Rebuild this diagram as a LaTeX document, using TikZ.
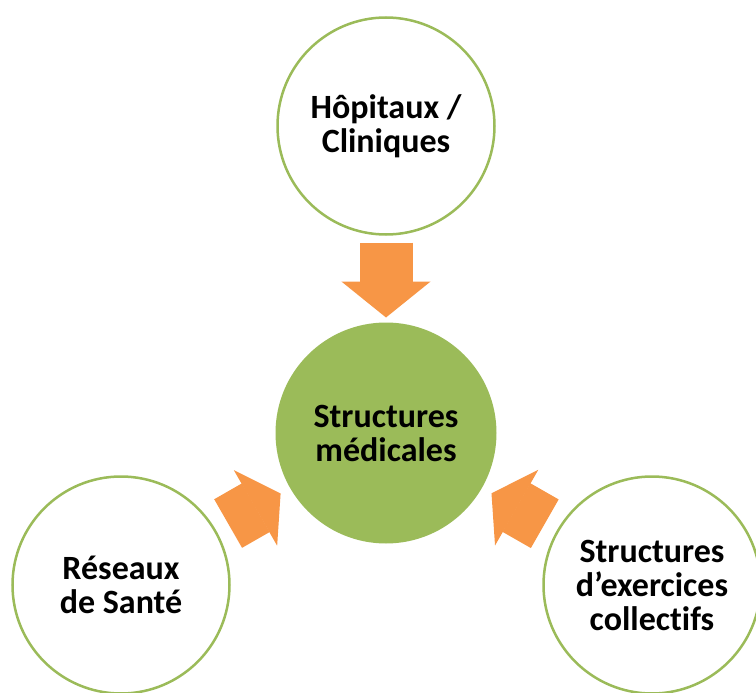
\documentclass[tikz,border=0pt]{standalone}
\usepackage{fontspec}
\setmainfont{Carlito}[Ligatures = NoCommon]
\usetikzlibrary{arrows.meta}
\definecolor{leafgreen}{HTML}{9BBB59}
\definecolor{flatorange}{HTML}{F79646}

\begin{document}
\begin{tikzpicture}[x=1pt,y=-1pt,
		ring/.style = {circle,draw = leafgreen,line width = 2.5pt,fill = white,minimum size = 217pt,inner sep = 0pt,outer sep = 0pt,align = center,font = \fontsize{34}{34}\selectfont\bfseries},
		hub/.style = {ring,draw = none,fill = leafgreen,minimum size = 221pt},
		push/.style = {draw = flatorange,line width = 53pt,-{Triangle[length = 36pt,width = 89pt,line width = 1.5pt]},shorten <= 8pt,shorten >= 5pt},
		slant/.style = {push,line width = 56pt,-{Triangle[length = 29pt,width = 87pt,line width = 1.5pt]},shorten <= 15pt,shorten >= 11pt}]
		\useasboundingbox (0,0) rectangle (756,693);
		\node[hub] at (386,433) (m) {Structures\\médicales};
		\node[ring] at (386,126) (h) {Hôpitaux /\\Cliniques};
		\node[ring] at (121,585) (r) {Réseaux\\de Santé};
		\node[ring] at (652,585) (s) {Structures\\d’exercices\\collectifs};
		\draw[push] (h) to (m);
		\draw[slant] (r) to (m);
		\draw[slant] (s) to (m);
	\end{tikzpicture}
\end{document}
